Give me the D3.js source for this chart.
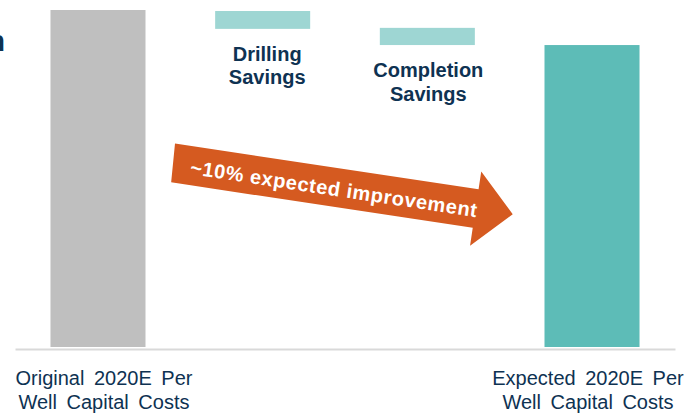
<!DOCTYPE html>
<html><head><meta charset="utf-8">
<script src="https://cdn.jsdelivr.net/npm/d3@7"></script>
<style>html,body{margin:0;padding:0;background:#fff;overflow:hidden;} svg{display:block;font-family:"Liberation Sans",Arial,sans-serif;}</style>
</head><body><svg id="c" width="690" height="416"></svg>
<script>
// ---- data ----
const categories = ["Original 2020E Per Well Capital Costs", "Drilling Savings", "Completion Savings", "Expected 2020E Per Well Capital Costs"];
const labelLines = [["Original 2020E Per", "Well Capital Costs"], ["Drilling", "Savings"], ["Completion", "Savings"], ["Expected 2020E Per", "Well Capital Costs"]];
const barStart = [0, 99.7, 94.7, 0];      // indexed cost, original = 100
const barEnd = [100, 94.4, 89.6, 89.6];
const barKind = ["total", "delta", "delta", "total"];
const arrowLabel = "~10% expected improvement";
const sideText = "n";

// ---- layout ----
const W = 690, H = 416;
const navy = "#0e3252";
const colors = {total0: "#bfbfbf", delta: "#9ed6d3", total3: "#5dbcb7"};
const svg = d3.select("#c");

const x = d3.scaleBand().domain(categories).range([15, 675]).paddingInner(0.423).paddingOuter(0.2155);
const y = d3.scaleLinear().domain([0, 100]).range([347, 10]);

// bars
svg.append("g").selectAll("rect").data(categories).join("rect")
  .attr("x", d => x(d))
  .attr("width", x.bandwidth())
  .attr("y", (d, i) => y(Math.max(barStart[i], barEnd[i])))
  .attr("height", (d, i) => Math.abs(y(barStart[i]) - y(barEnd[i])))
  .attr("fill", (d, i) => barKind[i] === "delta" ? colors.delta : (i === 0 ? colors.total0 : colors.total3));

// baseline axis
const xAxis = d3.axisBottom(x).tickSize(0).tickFormat("");
const ax = svg.append("g").attr("transform", `translate(0,${y(0) + 2})`).call(xAxis);
ax.select(".domain").attr("stroke", "#d9d9d9").attr("stroke-width", 2);

// bottom labels for totals
const totalDx = [6, 0, 0, -4];
categories.forEach((c, i) => {
  if (barKind[i] !== "total") return;
  const t = svg.append("text")
    .attr("text-anchor", "middle")
    .attr("fill", navy)
    .style("font-size", "20px")
    .style("word-spacing", "4px");
  labelLines[i].forEach((ln, k) => {
    t.append("tspan").attr("x", x(c) + x.bandwidth() / 2 + totalDx[i]).attr("y", 385 + k * 24).text(ln);
  });
});

// labels under savings bars
const deltaDx = [0, 4.5, 1, 0];
categories.forEach((c, i) => {
  if (barKind[i] !== "delta") return;
  const bottom = y(Math.min(barStart[i], barEnd[i]));
  const t = svg.append("text")
    .attr("text-anchor", "middle")
    .attr("fill", navy)
    .style("font-size", "20px")
    .style("font-weight", "bold");
  labelLines[i].forEach((ln, k) => {
    t.append("tspan").attr("x", x(c) + x.bandwidth() / 2 + deltaDx[i]).attr("y", bottom + 32 + k * 23.5).text(ln);
  });
});

// improvement arrow
const ag = svg.append("g").attr("transform", "translate(175,143.5) rotate(8.58)");
const shaftLen = 307, thick = 39, headOut = 18, tip = 344.5;
const pts = [[0, 0], [shaftLen, 0], [shaftLen, -headOut], [tip, thick / 2], [shaftLen, thick + headOut], [shaftLen, thick], [2, thick]];
ag.append("path").attr("d", d3.line()(pts) + "Z").attr("fill", "#d55a20");
ag.append("text").attr("x", 19).attr("y", 28)
  .attr("fill", "#fff")
  .style("font-size", "20px").style("font-weight", "bold").style("letter-spacing", "0.6px")
  .text(arrowLabel);

// clipped text at the left edge
svg.append("text").attr("x", 5).attr("y", 51).attr("text-anchor", "end")
  .attr("fill", navy).style("font-size", "30px").style("font-weight", "bold").text(sideText);
</script></body></html>
